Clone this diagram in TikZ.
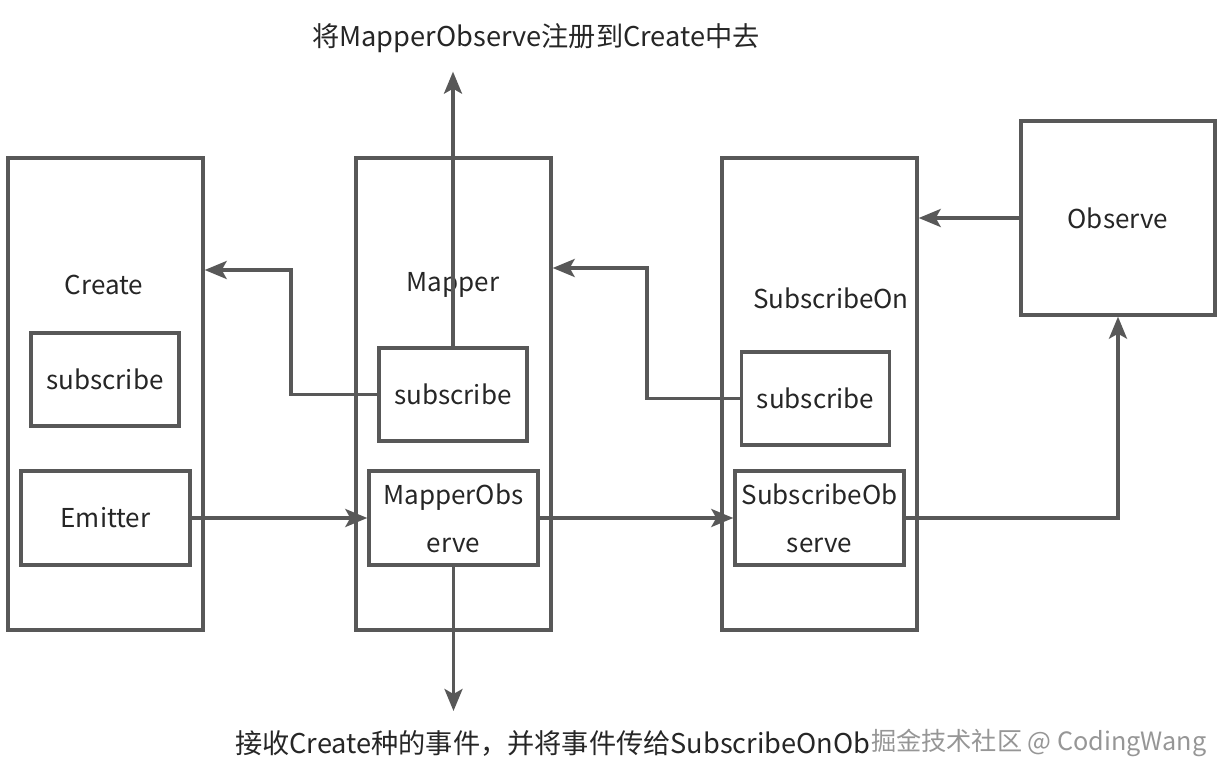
\documentclass[tikz,border=0pt]{standalone}
\usepackage{fontspec}
\setmainfont{Noto Sans CJK SC}
\usetikzlibrary{arrows.meta}
\definecolor{boxgray}{RGB}{88,88,88}
\definecolor{textgray}{RGB}{38,38,38}
\definecolor{markgray}{RGB}{150,150,150}
\tikzset{
  outerbox/.style={draw=boxgray, line width=1.7pt, minimum width=97.5pt, minimum height=236pt, inner sep=0pt},
  innerbox/.style={draw=boxgray, line width=1.7pt, minimum width=74pt, minimum height=46.5pt, inner sep=0pt,
    text=textgray, font=\fontsize{13pt}{24pt}\selectfont, align=center},
  boxtitle/.style={text=textgray, font=\fontsize{13pt}{16pt}\selectfont},
  sidetext/.style={text=textgray, font=\fontsize{13.6pt}{16pt}\selectfont},
  flow/.style={boxgray, line width=1.7pt, -{Stealth[length=11pt,width=9pt,inset=2.5pt]}}
}

\begin{document}
\begin{tikzpicture}[x=0.5pt,y=-0.5pt]
  \useasboundingbox (0,0) rectangle (1228,780);

  % grands cadres
  \node[outerbox] (create) at (105.5,394) {};
  \node[outerbox] (mapper) at (453.5,394) {};
  \node[outerbox] (subscribeOn) at (819.5,394) {};
  \node[innerbox, minimum width=97pt, minimum height=97pt] (observe) at (1118,218) {Observe};

  % titres
  \node[boxtitle] (createTitle) at (104,285) {Create};
  \node[boxtitle] (mapperTitle) at (453,285) {Mapper};
  \node[boxtitle] (subscribeOnTitle) at (831,298) {SubscribeOn};

  % blocs internes
  \node[innerbox] (createSub) at (105,379.5) {subscribe};
  \node[innerbox, minimum width=84.5pt, minimum height=47pt] (emitter) at (105.5,518) {Emitter};
  \node[innerbox] (mapSub) at (453,394.5) {subscribe};
  \node[innerbox, minimum width=84.5pt, minimum height=47pt] (mapObs) at (453.5,518) {MapperObs\\erve};
  \node[innerbox] (subSub) at (815.5,398.5) {subscribe};
  \node[innerbox, minimum width=84.5pt, minimum height=47pt] (subObs) at (819.5,518) {SubscribeOb\\serve};

  % textes du haut et du bas
  \node[sidetext] (topText) at (536,38) {将MapperObserve注册到Create中去};
  \node[sidetext, anchor=west] (bottomText) at (228,743) {接收Create种的事件，并将事件传给SubscribeOnOb};
  \node[sidetext, anchor=west, text=markgray, font=\fontsize{12.6pt}{16pt}\selectfont] (watermark) at (864,743) {掘金技术社区 @ CodingWang};

  % liaisons
  \draw[flow] (observe.west) -- (observe.west -| subscribeOn.east);
  \draw[flow] (subSub.west) -| (647,268) -- (mapper.east |- 0,268);
  \draw[flow] (mapSub.west) -| (291,270) -- (create.east |- 0,270);
  \draw[flow, shorten >=6pt] (mapSub.north) -- (mapSub.north |- topText.south);
  \draw[flow] (emitter.east) -- (mapObs.west);
  \draw[flow] (mapObs.east) -- (subObs.west);
  \draw[flow] (subObs.east) -| (observe.south);
  \draw[flow, shorten >=6pt] (mapObs.south) -- (mapObs.south |- bottomText.north);
\end{tikzpicture}
\end{document}
